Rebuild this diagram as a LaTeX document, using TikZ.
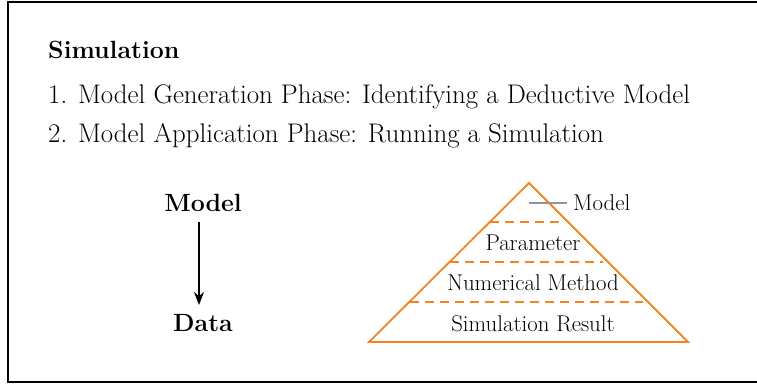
\documentclass[tikz,border=0pt]{standalone}
\usetikzlibrary{arrows.meta}
\definecolor{pyrorange}{RGB}{243,132,30}
\tikzset{
  big/.style={font=\fontsize{26.9}{32}\selectfont, inner sep=0pt},
  bigbold/.style={font=\fontsize{24.9}{30}\selectfont\bfseries, inner sep=0pt},
  small/.style={font=\fontsize{22.8}{27}\selectfont, inner sep=0pt},
  layer/.style={pyrorange, line width=1.6pt, dash pattern=on 9pt off 6pt},
}
\begin{document}
\begin{tikzpicture}[x=1pt,y=-1pt]
\useasboundingbox (0,0) rectangle (757,383);
% outer frame
\draw[line width=1.3pt] (8,2) rectangle (780,382);

% heading and list
\node[bigbold, anchor=west] (title) at (48,50) {Simulation};
\node[big, anchor=west] (l1) at (48,97) {1. Model Generation Phase: Identifying a Deductive Model};
\node[big, anchor=west] (l2) at (48,136) {2. Model Application Phase: Running a Simulation};

% model -> data
\node[bigbold] (model) at (203,203) {Model};
\node[bigbold] (data) at (203,323) {Data};
\draw[line width=1.3pt, -{Stealth[length=13pt,width=10pt]}] (199,222) -- (199,305);

% pyramid
\coordinate (apex) at (529,183);
\coordinate (bl) at (369,342);
\coordinate (br) at (688,342);
\draw[pyrorange, line width=1.8pt, line join=miter] (apex) -- (bl) -- (br) -- cycle;
\draw[layer] (490,222) -- (563,222);
\draw[layer] (450,262) -- (603,262);
\draw[layer] (410,302) -- (643,302);

% labels
\coordinate (mtick) at (529,203);
\node[small, anchor=west] (mlabel) at (573,203) {Model};
\draw[gray!85, line width=1.8pt] (mtick) -- ([xshift=-6pt]mlabel.west);
\node[small] (param) at (533,243) {Parameter};
\node[small] (num) at (533,283) {Numerical Method};
\node[small] (res) at (533,324) {Simulation Result};
\end{tikzpicture}
\end{document}
